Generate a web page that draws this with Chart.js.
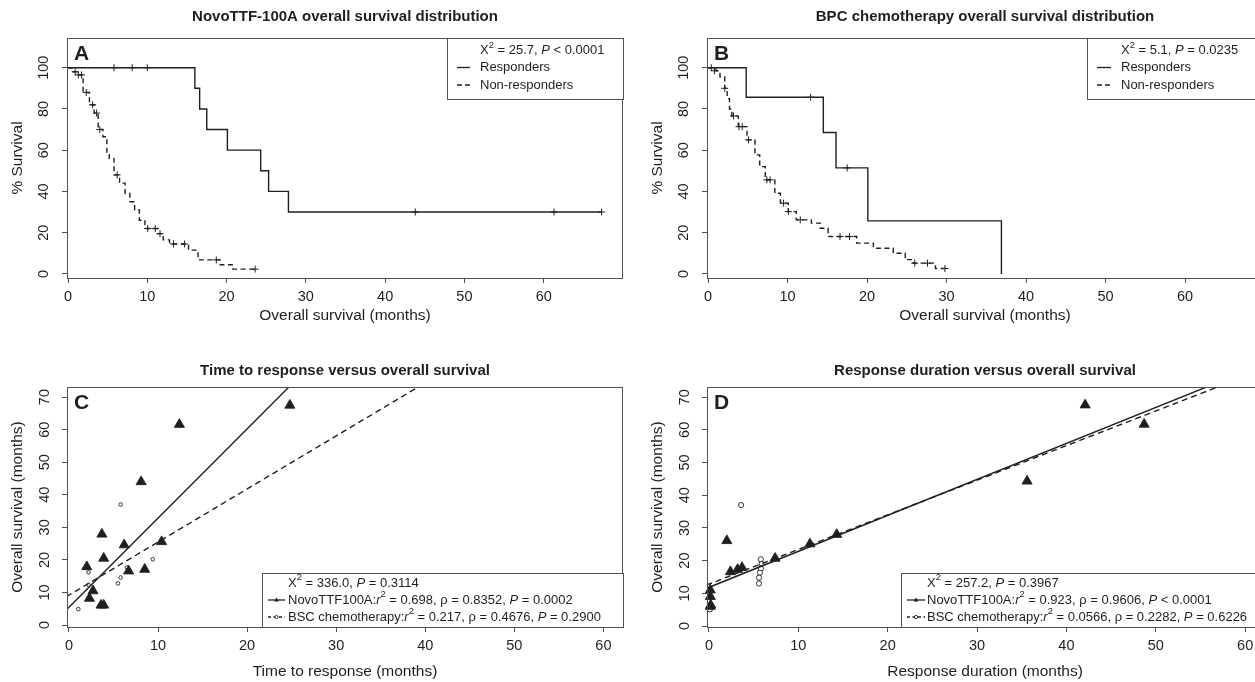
<!DOCTYPE html>
<html>
<head>
<meta charset="utf-8">
<title>Survival panels</title>
<script src="https://cdn.jsdelivr.net/npm/chart.js@4.4.1/dist/chart.umd.min.js"></script>
<style>
  html, body { margin: 0; padding: 0; background: #fff; }
  body { width: 1255px; height: 682px; overflow: hidden; position: relative; }
  canvas { position: absolute; }
</style>
</head>
<body>
<canvas id="panelA" width="640" height="340" style="left:0;top:0;width:640px;height:340px"></canvas>
<canvas id="panelB" width="640" height="340" style="left:640px;top:0;width:640px;height:340px"></canvas>
<canvas id="panelC" width="640" height="342" style="left:0;top:340px;width:640px;height:342px"></canvas>
<canvas id="panelD" width="640" height="342" style="left:640px;top:340px;width:640px;height:342px"></canvas>
<script>
const FONT = '"Liberation Sans", Arial, Helvetica, sans-serif';
const INK = '#1f1f1f';
const FRAME = '#505050';

// --- tick labels ---
const survTicks = [0, 20, 40, 60, 80, 100];
const monthTicks = [0, 10, 20, 30, 40, 50, 60];
const osTicks = [0, 10, 20, 30, 40, 50, 60, 70];

// --- A: NovoTTF-100A Kaplan-Meier ---
const aRespTime = [0, 16.0, 16.6, 17.5, 20.1, 24.3, 25.3, 27.8, 67.3];
const aRespSurv = [100, 90, 80, 70, 60, 50, 40, 30, 30];
const aRespCensTime = [5.8, 8.1, 10.0, 43.8, 61.3, 67.3];
const aRespCensSurv = [100, 100, 100, 30, 30, 30];
const aNonTime = [0, 0.5, 1.2, 1.9, 2.7, 3.3, 3.8, 4.4, 4.9, 5.2, 5.8, 6.5, 7.2, 7.8, 8.4, 9.0, 9.7, 11.3, 12.0, 12.8, 15.2, 16.4, 19.2, 20.8, 23.6];
const aNonSurv = [100, 98, 96.5, 88, 82, 78, 70, 66.5, 58.5, 56, 48, 44, 39, 35, 31, 26, 22, 19.5, 16.5, 14.5, 11.5, 6.8, 4.4, 2.3, 2.3];
const aNonCensTime = [0.9, 1.3, 1.7, 2.3, 3.1, 3.6, 4.0, 6.2, 10.05, 11.0, 11.6, 13.3, 14.7, 18.7, 23.6];
const aNonCensSurv = [98, 96.5, 96.5, 88, 82, 78, 70, 48, 22, 22, 19.5, 14.5, 14.5, 6.8, 2.3];

// --- B: BPC chemotherapy Kaplan-Meier ---
const bRespTime = [0, 4.8, 14.5, 16.1, 20.1, 36.9];
const bRespSurv = [100, 85.7, 68.6, 51.4, 25.7, 0];
const bRespCensTime = [12.9, 17.5];
const bRespCensSurv = [85.7, 51.4];
const bNonTime = [0, 1.0, 1.5, 2.1, 2.4, 2.7, 3.0, 3.8, 4.9, 5.9, 6.5, 7.2, 8.4, 9.1, 10.1, 11.1, 13.0, 14.1, 15.1, 18.7, 20.8, 23.3, 24.8, 25.8, 28.6, 29.8];
const bNonSurv = [100, 98.5, 95.6, 90, 85, 80, 76.6, 71.4, 65, 57.7, 52, 45.6, 39.1, 34.3, 30.2, 26.2, 24.6, 22.1, 18.1, 14.9, 12.4, 10, 6.9, 5.2, 2.6, 2.6];
const bNonCensTime = [0.4, 0.8, 2.1, 3.2, 3.9, 4.3, 5.1, 7.4, 7.8, 9.5, 10.1, 11.6, 16.6, 17.8, 26.0, 27.6, 29.8];
const bNonCensSurv = [100, 98.5, 90, 76.6, 71.4, 71.4, 65, 45.6, 45.6, 34.3, 30.2, 26.2, 18.1, 18.1, 5.2, 5.2, 2.6];

// --- C: time to response vs overall survival ---
const cNovoTime = [2.0, 3.7, 3.9, 6.2, 2.7, 2.3, 3.6, 3.9, 6.7, 8.5, 10.4, 8.1, 12.4, 24.8];
const cNovoOS = [17.9, 27.9, 20.5, 24.6, 10.5, 8.2, 6.1, 6.1, 16.6, 17.1, 25.6, 44.0, 61.6, 67.5];
const cBscTime = [1.05, 2.2, 2.2, 5.8, 5.5, 5.8, 6.5, 9.4];
const cBscOS = [4.9, 16.2, 12.3, 37.0, 12.8, 14.6, 17.7, 20.2];
const cNovoFitX = [-0.3, 25.5];
const cNovoFitY = [4.6, 75.3];
const cBscFitX = [-0.3, 40.5];
const cBscFitY = [8.7, 75.2];

// --- D: response duration vs overall survival ---
const dNovoDur = [0.15, 0.15, 0.2, 0.15, 2.0, 2.4, 3.2, 3.7, 7.4, 11.3, 14.3, 35.6, 42.1, 48.7];
const dNovoOS = [11.0, 9.0, 6.4, 6.0, 26.1, 16.6, 17.3, 17.9, 20.7, 25.1, 28.0, 44.3, 67.6, 61.7];
const dBscDur = [0.1, 3.6, 5.8, 5.9, 5.8, 5.7, 5.6, 5.6];
const dBscOS = [5.1, 37.0, 20.4, 19.0, 17.6, 16.3, 14.8, 13.0];
const dNovoFitX = [-0.3, 57.5];
const dNovoFitY = [11.5, 75.1];
const dBscFitX = [-0.3, 59.0];
const dBscFitY = [12.5, 75.3];

// --- dataset helpers ---
function pts(xs, ys) { return xs.map((x, i) => ({ x: x, y: ys[i] })); }

function kmLine(xs, ys, dash) {
    return { data: pts(xs, ys), stepped: true, borderColor: INK, borderWidth: 1.4,
             borderDash: dash, pointRadius: 0, fill: false };
}

function censor(xs, ys) {
    return { data: pts(xs, ys), showLine: false, pointStyle: 'cross', pointRadius: 3.5,
             pointBorderColor: INK, pointBorderWidth: 1, clip: false };
}

function fitLine(xs, ys, dash) {
    return { data: pts(xs, ys), borderColor: INK, borderWidth: 1.4, borderDash: dash,
             pointRadius: 0, fill: false };
}

function marks(xs, ys, style, r, fillColor) {
    return { data: pts(xs, ys), showLine: false, pointStyle: style, pointRadius: r,
             pointBackgroundColor: fillColor, pointBorderColor: INK, pointBorderWidth: 0.9, clip: false };
}

// text with ^sup^ and *italic* parts
function drawRich(ctx, x, y, text, size) {
    const parts = text.split(/(\^[^\^]*\^|\*[^*]*\*)/).filter(s => s.length);
    let cx = x;
    parts.forEach(p => {
        let t = p, sz = size, dy = 0, style = '';
        if (p[0] === '^') { t = p.slice(1, -1); sz = size * 0.72; dy = -size * 0.42; }
        else if (p[0] === '*') { t = p.slice(1, -1); style = 'italic '; }
        ctx.font = style + sz + 'px ' + FONT;
        ctx.fillText(t, cx, y + dy);
        cx += ctx.measureText(t).width;
    });
}

function drawKey(ctx, x0, x1, y, key) {
    ctx.save();
    ctx.strokeStyle = INK;
    ctx.lineWidth = 1.3;
    ctx.setLineDash(key.dash);
    ctx.beginPath(); ctx.moveTo(x0, y); ctx.lineTo(x1, y); ctx.stroke();
    ctx.setLineDash([]);
    const mx = (x0 + x1) / 2;
    if (key.mark === 'triangle') {
        ctx.fillStyle = INK;
        ctx.beginPath(); ctx.moveTo(mx, y - 2.6); ctx.lineTo(mx + 2.4, y + 1.5); ctx.lineTo(mx - 2.4, y + 1.5);
        ctx.closePath(); ctx.fill();
    } else if (key.mark === 'circle') {
        ctx.fillStyle = '#fff';
        ctx.lineWidth = 0.9;
        ctx.beginPath(); ctx.arc(mx, y, 1.6, 0, Math.PI * 2); ctx.fill(); ctx.stroke();
    }
    ctx.restore();
}

// frame, legend box, panel letter and title
function decor(o) {
    return {
        id: 'decor',
        afterDatasetsDraw(chart) {
            const ctx = chart.ctx, a = chart.chartArea;
            ctx.save();
            ctx.strokeStyle = FRAME;
            ctx.lineWidth = 1;
            ctx.strokeRect(Math.round(a.left) + 0.5, Math.round(a.top) + 0.5,
                           Math.round(a.right - a.left) - 1, Math.round(a.bottom - a.top));

            const bx = a.right - o.box.w;
            const by = o.box.top ? a.top : a.bottom - o.box.h;
            ctx.fillStyle = '#fff';
            ctx.fillRect(bx, by, o.box.w, o.box.h);
            ctx.strokeRect(Math.round(bx) + 0.5, Math.round(by) + 0.5, o.box.w, o.box.h);

            ctx.fillStyle = INK;
            ctx.textBaseline = 'middle';
            ctx.textAlign = 'left';
            const base = o.box.top ? a.top : a.bottom;
            o.rows.forEach(r => {
                const ry = base + r.dy;
                if (r.key) drawKey(ctx, bx + o.keyDx[0], bx + o.keyDx[1], ry, r.key);
                drawRich(ctx, bx + o.textDx, ry, r.text, 13);
            });

            ctx.font = 'bold 21px ' + FONT;
            ctx.textBaseline = 'alphabetic';
            ctx.fillText(o.letter, a.left + 7, a.top + 21.5);

            ctx.font = 'bold 15px ' + FONT;
            ctx.textAlign = 'center';
            ctx.textBaseline = 'middle';
            ctx.fillText(o.title, (a.left + a.right) / 2, o.titleY);
            ctx.restore();
        }
    };
}

function panel(id, o) {
    return new Chart(document.getElementById(id), {
        type: 'line',
        data: { datasets: o.datasets },
        options: {
            responsive: false,
            animation: false,
            events: [],
            layout: { padding: { left: 0, right: 17, top: o.top, bottom: 0 } },
            plugins: { legend: { display: false }, tooltip: { enabled: false }, title: { display: false } },
            scales: {
                x: {
                    type: 'linear', min: o.xMin, max: o.xMax,
                    afterBuildTicks: s => { s.ticks = o.xTicks.map(v => ({ value: v })); },
                    afterFit: s => { s.height = o.xH; },
                    grid: { drawOnChartArea: false, drawTicks: true, tickLength: 5, color: FRAME },
                    border: { display: false },
                    ticks: { font: { family: FONT, size: 14.5 }, color: INK, padding: 5.5,
                             autoSkip: false, minRotation: 0, maxRotation: 0 },
                    title: { display: true, text: o.xTitle, color: INK, font: { family: FONT, size: 15.5 },
                             padding: { top: 0, bottom: o.xTitlePad } }
                },
                y: {
                    type: 'linear', min: o.yMin, max: o.yMax,
                    afterBuildTicks: s => { s.ticks = o.yTicks.map(v => ({ value: v })); },
                    afterFit: s => { s.width = 67; },
                    grid: { drawOnChartArea: false, drawTicks: true, tickLength: 5, color: FRAME },
                    border: { display: false },
                    ticks: { font: { family: FONT, size: 14.5 }, color: INK, padding: o.yPad,
                             autoSkip: false, minRotation: 90, maxRotation: 90, crossAlign: 'center' },
                    title: { display: true, text: o.yTitle, color: INK, font: { family: FONT, size: 15.5 },
                             padding: { top: 8.7, bottom: 0 } }
                }
            }
        },
        plugins: [decor(o)]
    });
}

const kmRows = (stat) => [
    { dy: 12.5, text: stat },
    { dy: 29.5, text: 'Responders', key: { dash: [], mark: null } },
    { dy: 47, text: 'Non-responders', key: { dash: [5, 3], mark: null } }
];

panel('panelA', {
    title: 'NovoTTF-100A overall survival distribution', titleY: 17, letter: 'A',
    top: 38, xH: 62, xTitlePad: 14.5, yPad: 5.9,
    xMin: -0.13, xMax: 70, yMin: -2, yMax: 114.4,
    xTicks: monthTicks, yTicks: survTicks,
    xTitle: 'Overall survival (months)', yTitle: '% Survival',
    box: { w: 176, h: 61, top: true }, textDx: 33, keyDx: [10, 23],
    rows: kmRows('X^2^ = 25.7, *P* < 0.0001'),
    datasets: [
        kmLine(aRespTime, aRespSurv, []),
        kmLine(aNonTime, aNonSurv, [5, 3.5]),
        censor(aRespCensTime, aRespCensSurv),
        censor(aNonCensTime, aNonCensSurv)
    ]
});

panel('panelB', {
    title: 'BPC chemotherapy overall survival distribution', titleY: 17, letter: 'B',
    top: 38, xH: 62, xTitlePad: 14.5, yPad: 5.9,
    xMin: -0.13, xMax: 69.8, yMin: -2, yMax: 114.4,
    xTicks: monthTicks, yTicks: survTicks,
    xTitle: 'Overall survival (months)', yTitle: '% Survival',
    box: { w: 176, h: 61, top: true }, textDx: 34, keyDx: [10, 24],
    rows: kmRows('X^2^ = 5.1, *P* = 0.0235'),
    datasets: [
        kmLine(bRespTime, bRespSurv, []),
        kmLine(bNonTime, bNonSurv, [5, 3.5]),
        censor(bRespCensTime, bRespCensSurv),
        censor(bNonCensTime, bNonCensSurv)
    ]
});

const scatterRows = (stat, novo, bsc) => [
    { dy: -44, text: stat },
    { dy: -27, text: novo, key: { dash: [], mark: 'triangle' } },
    { dy: -10, text: bsc, key: { dash: [3, 2.5], mark: 'circle' } }
];

panel('panelC', {
    title: 'Time to response versus overall survival', titleY: 31, letter: 'C',
    top: 47, xH: 55, xTitlePad: 0.7, yPad: 8.9,
    xMin: -0.22, xMax: 62.2, yMin: -0.6, yMax: 73.1,
    xTicks: monthTicks, yTicks: osTicks,
    xTitle: 'Time to response (months)', yTitle: 'Overall survival (months)',
    box: { w: 361, h: 54, top: false }, textDx: 26, keyDx: [6, 23],
    rows: scatterRows('X^2^ = 336.0, *P* = 0.3114',
                      'NovoTTF100A:*r*^2^ = 0.698, \u03c1 = 0.8352, *P* = 0.0002',
                      'BSC chemotherapy:*r*^2^ = 0.217, \u03c1 = 0.4676, *P* = 0.2900'),
    datasets: [
        fitLine(cNovoFitX, cNovoFitY, []),
        fitLine(cBscFitX, cBscFitY, [6, 4]),
        marks(cNovoTime, cNovoOS, 'triangle', 5.8, INK),
        marks(cBscTime, cBscOS, 'circle', 1.8, '#fff')
    ]
});

panel('panelD', {
    title: 'Response duration versus overall survival', titleY: 31, letter: 'D',
    top: 47, xH: 55, xTitlePad: 0.7, yPad: 8.9,
    xMin: -0.22, xMax: 62.0, yMin: -0.3, yMax: 73.1,
    xTicks: monthTicks, yTicks: osTicks,
    xTitle: 'Response duration (months)', yTitle: 'Overall survival (months)',
    box: { w: 362, h: 54, top: false }, textDx: 26, keyDx: [6, 24],
    rows: scatterRows('X^2^ = 257.2, *P* = 0.3967',
                      'NovoTTF100A:*r*^2^ = 0.923, \u03c1 = 0.9606, *P* < 0.0001',
                      'BSC chemotherapy:*r*^2^ = 0.0566, \u03c1 = 0.2282, *P* = 0.6226'),
    datasets: [
        fitLine(dNovoFitX, dNovoFitY, []),
        fitLine(dBscFitX, dBscFitY, [6, 4]),
        marks(dNovoDur, dNovoOS, 'triangle', 5.8, INK),
        marks(dBscDur, dBscOS, 'circle', 2.6, '#fff')
    ]
});
</script>
</body>
</html>
